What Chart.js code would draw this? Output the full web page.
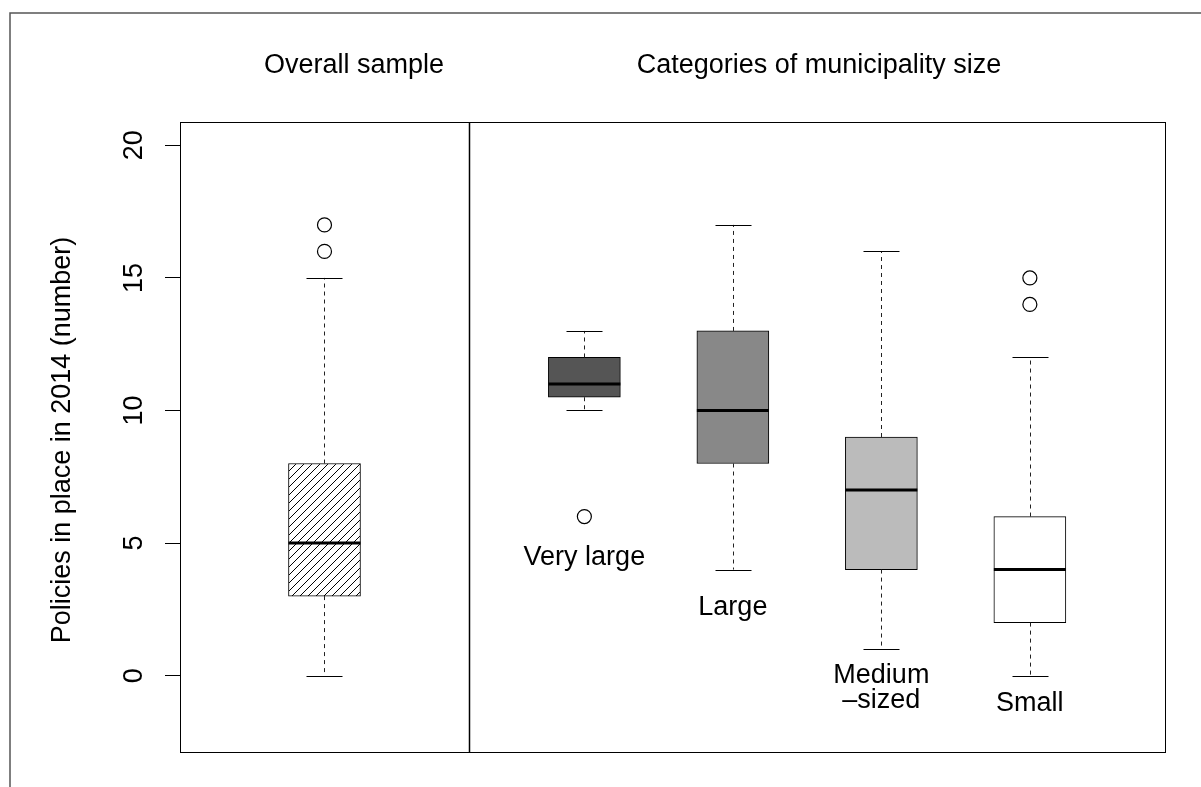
<!DOCTYPE html>
<html>
<head>
<meta charset="utf-8">
<script src="https://cdn.jsdelivr.net/npm/chart.js@4.4.1/dist/chart.umd.min.js"></script>
<style>
  html, body { margin: 0; padding: 0; background: #fff; }
  canvas { display: block; }
</style>
</head>
<body>
<canvas id="boxChart" width="1201" height="787"></canvas>
<script>
// values
const groupLabels = ['', 'Very large', 'Large', 'Medium\n\u2013sized', 'Small'];
const positions = [1, 2.75, 3.75, 4.75, 5.75];
const whiskerLow = [0, 10, 4, 1, 0];
const q1 = [3, 10.5, 8, 4, 2];
const medians = [5, 11, 10, 7, 4];
const q3 = [8, 12, 13, 9, 6];
const whiskerHigh = [15, 13, 17, 16, 12];
const outlierGroup = [0, 0, 1, 4, 4];
const outlierValues = [16, 17, 6, 14, 15];
const yTicks = [0, 5, 10, 15, 20];
const labelY = [null, 4.17, 2.28, -0.29, -1.35];
const dividerX = 1.975;

const FONT = '"Liberation Sans", Arial, Helvetica, sans-serif';
Chart.defaults.font.family = FONT;
Chart.defaults.color = '#000';

function hatchPattern() {
    const s = 8;
    const c = document.createElement('canvas');
    c.width = s;
    c.height = s;
    const g = c.getContext('2d');
    g.fillStyle = '#fff';
    g.fillRect(0, 0, s, s);
    g.strokeStyle = '#000';
    g.lineWidth = 1;
    g.beginPath();
    g.moveTo(0, s); g.lineTo(s, 0);
    g.moveTo(-1, 1); g.lineTo(1, -1);
    g.moveTo(s - 1, s + 1); g.lineTo(s + 1, s - 1);
    g.stroke();
    return g.createPattern(c, 'repeat');
}

const boxFills = [hatchPattern(), '#555555', '#888888', '#bbbbbb', '#ffffff'];

const boxPlugin = {
    id: 'boxPlugin',
    afterDatasetsDraw(chart) {
        const ctx = chart.ctx;
        const x = chart.scales.x, y = chart.scales.y;
        const bars = chart.getDatasetMeta(0).data;
        ctx.save();
        positions.forEach((p, i) => {
            const px = Math.round(x.getPixelForValue(p)) + 0.5;
            const half = bars[i].width / 2;
            // dashed whiskers
            ctx.strokeStyle = '#222';
            ctx.lineWidth = 1;
            ctx.setLineDash([4, 4]);
            ctx.beginPath();
            ctx.moveTo(px, y.getPixelForValue(q1[i]));
            ctx.lineTo(px, y.getPixelForValue(whiskerLow[i]));
            ctx.moveTo(px, y.getPixelForValue(q3[i]));
            ctx.lineTo(px, y.getPixelForValue(whiskerHigh[i]));
            ctx.stroke();
            ctx.setLineDash([]);
            // caps
            ctx.strokeStyle = '#000';
            ctx.beginPath();
            [whiskerLow[i], whiskerHigh[i]].forEach(v => {
                const py = Math.round(y.getPixelForValue(v)) + 0.5;
                ctx.moveTo(px - half / 2, py);
                ctx.lineTo(px + half / 2, py);
            });
            ctx.stroke();
            // median
            ctx.lineWidth = 3;
            ctx.beginPath();
            const my = y.getPixelForValue(medians[i]);
            ctx.moveTo(bars[i].x - half, my);
            ctx.lineTo(bars[i].x + half, my);
            ctx.stroke();
        });
        ctx.restore();
    },
    afterDraw(chart) {
        const ctx = chart.ctx;
        const a = chart.chartArea;
        const x = chart.scales.x, y = chart.scales.y;
        ctx.save();
        // outer frame
        ctx.strokeStyle = '#555';
        ctx.lineWidth = 1.5;
        ctx.beginPath();
        ctx.moveTo(10, 787);
        ctx.lineTo(10, 13);
        ctx.lineTo(1201, 13);
        ctx.stroke();
        // plot box and divider
        ctx.strokeStyle = '#000';
        ctx.lineWidth = 1;
        ctx.strokeRect(Math.round(a.left) + 0.5, Math.round(a.top) + 0.5,
            Math.round(a.right - a.left), Math.round(a.bottom - a.top));
        const dx = Math.round(x.getPixelForValue(dividerX)) + 0.5;
        ctx.lineWidth = 1.5;
        ctx.beginPath();
        ctx.moveTo(dx, a.top);
        ctx.lineTo(dx, a.bottom);
        ctx.stroke();
        // titles
        ctx.fillStyle = '#000';
        ctx.font = '27px ' + FONT;
        ctx.textAlign = 'center';
        ctx.textBaseline = 'alphabetic';
        ctx.fillText('Overall sample', 354, 73);
        ctx.fillText('Categories of municipality size', 819, 73);
        // group labels
        groupLabels.forEach((txt, i) => {
            if (!txt) return;
            const px = x.getPixelForValue(positions[i]);
            const py = y.getPixelForValue(labelY[i]);
            txt.split('\n').forEach((line, k) => ctx.fillText(line, px, py + k * 25));
        });
        // y axis title
        ctx.translate(63, 440);
        ctx.rotate(-Math.PI / 2);
        ctx.textBaseline = 'middle';
        ctx.fillText('Policies in place in 2014 (number)', 0, 0);
        ctx.restore();
    }
};

new Chart(document.getElementById('boxChart').getContext('2d'), {
    type: 'bar',
    data: {
        datasets: [{
            type: 'bar',
            data: positions.map((p, i) => ({ x: p, y: [q1[i], q3[i]] })),
            backgroundColor: boxFills,
            borderColor: '#000',
            borderWidth: 1,
            borderSkipped: false,
            barThickness: 72,
            grouped: false
        }, {
            type: 'scatter',
            data: outlierValues.map((v, i) => ({ x: positions[outlierGroup[i]], y: v })),
            pointRadius: 7,
            pointBorderWidth: 1.2,
            borderColor: '#000',
            backgroundColor: 'rgba(0,0,0,0)',
            showLine: false
        }]
    },
    options: {
        responsive: false,
        animation: false,
        layout: { padding: { top: 122, right: 36, bottom: 35, left: 0 } },
        plugins: { legend: { display: false }, tooltip: { enabled: false } },
        scales: {
            x: { type: 'linear', min: 0.027, max: 6.66, offset: false, display: false },
            y: {
                type: 'linear',
                min: -2.88,
                max: 20.88,
                afterBuildTicks: (scale) => { scale.ticks = yTicks.map(v => ({ value: v })); },
                afterFit: (scale) => { scale.width = 180; },
                ticks: {
                    minRotation: 90, maxRotation: 90, crossAlign: 'center',
                    padding: 15, color: '#000', font: { size: 27 }
                },
                grid: { drawOnChartArea: false, drawTicks: true, tickLength: 15, color: '#000', lineWidth: 1 },
                border: { display: false }
            }
        }
    },
    plugins: [boxPlugin]
});
</script>
</body>
</html>
